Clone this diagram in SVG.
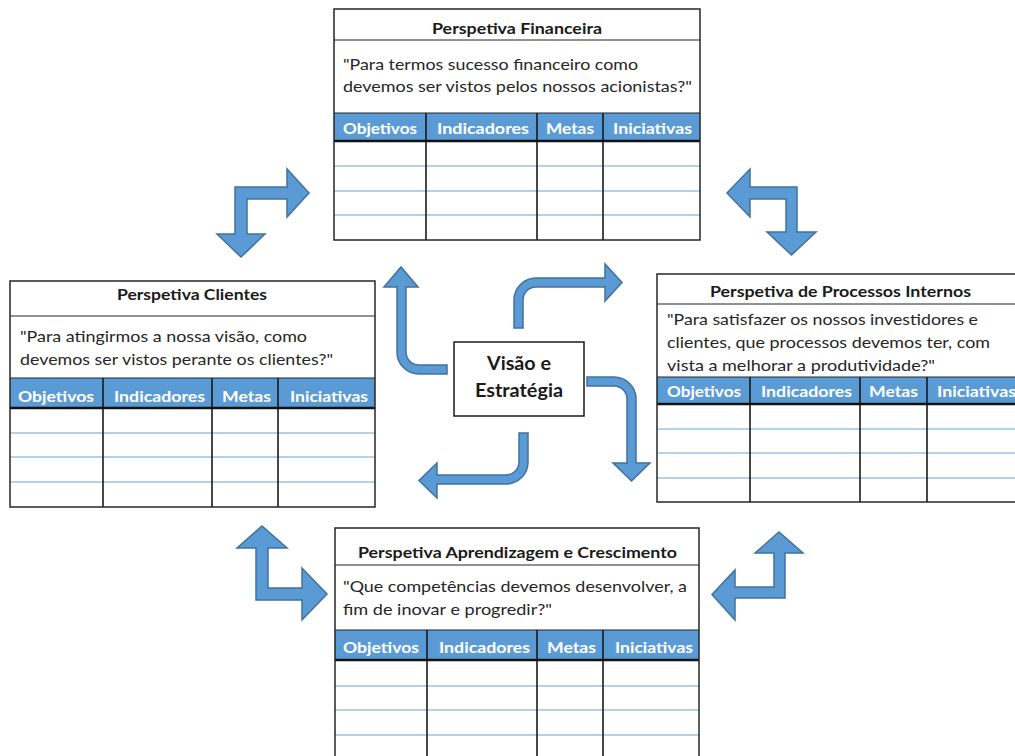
<svg xmlns="http://www.w3.org/2000/svg" width="1015" height="756" viewBox="0 0 1015 756">
  <style>
    .bg { fill: #ffffff; }
    .frame { fill: none; stroke: #262626; stroke-width: 1.5; }
    .sep { stroke: #262626; stroke-width: 1.2; }
    .col { stroke: #1a1a1a; stroke-width: 1.6; }
    .hdr { fill: #5B9BD5; }
    .hdrline { stroke: #111111; stroke-width: 2.4; }
    .row { stroke: #9DC3E6; stroke-width: 1.5; }
    .title { font-family: Lato, "Liberation Sans", sans-serif; font-weight: bold; font-size: 15px; fill: #1a1a1a; text-anchor: middle; }
    .q { font-family: Lato, "Liberation Sans", sans-serif; font-size: 16px; fill: #262626; }
    .th { font-family: Lato, "Liberation Sans", sans-serif; font-weight: bold; font-size: 16px; fill: #ffffff; text-anchor: middle; }
    .core { font-family: Lato, "Liberation Sans", sans-serif; font-weight: bold; font-size: 18px; fill: #1a1a1a; text-anchor: middle; }
    .arrow { fill: #5B9BD5; stroke: #41719C; stroke-width: 1.5; stroke-linejoin: miter; }
  </style>

  <rect x="0" y="0" width="1015" height="756" fill="#ffffff"/>

  <!-- Financial perspective -->
  <g id="perspetiva-financeira">
    <rect class="bg" x="334" y="9" width="366" height="231"/>
    <rect class="hdr" x="334" y="113" width="366" height="28"/>
    <line class="row" x1="334" y1="166" x2="700" y2="166"/>
    <line class="row" x1="334" y1="191" x2="700" y2="191"/>
    <line class="row" x1="334" y1="215" x2="700" y2="215"/>
    <line class="sep" x1="334" y1="40" x2="700" y2="40"/>
    <line class="sep" x1="334" y1="113" x2="700" y2="113"/>
    <line class="col" x1="426" y1="113" x2="426" y2="240"/>
    <line class="col" x1="537" y1="113" x2="537" y2="240"/>
    <line class="col" x1="603" y1="113" x2="603" y2="240"/>
    <line class="hdrline" x1="334" y1="141" x2="700" y2="141"/>
    <rect class="frame" x="334" y="9" width="366" height="231"/>
    <text class="title" x="517" y="34" textLength="170" lengthAdjust="spacingAndGlyphs">Perspetiva Financeira</text>
    <text class="q" x="343" y="70" textLength="295" lengthAdjust="spacingAndGlyphs">"Para termos sucesso financeiro como</text>
    <text class="q" x="343" y="92" textLength="349" lengthAdjust="spacingAndGlyphs">devemos ser vistos pelos nossos acionistas?"</text>
    <text class="th" x="380" y="134" textLength="74" lengthAdjust="spacingAndGlyphs">Objetivos</text>
    <text class="th" x="483" y="134" textLength="92" lengthAdjust="spacingAndGlyphs">Indicadores</text>
    <text class="th" x="570" y="134" textLength="48" lengthAdjust="spacingAndGlyphs">Metas</text>
    <text class="th" x="652.5" y="134" textLength="79" lengthAdjust="spacingAndGlyphs">Iniciativas</text>
  </g>

  <!-- Customer perspective -->
  <g id="perspetiva-clientes">
    <rect class="bg" x="10" y="281" width="365" height="226"/>
    <rect class="hdr" x="10" y="378" width="365" height="30"/>
    <line class="row" x1="10" y1="433" x2="375" y2="433"/>
    <line class="row" x1="10" y1="457" x2="375" y2="457"/>
    <line class="row" x1="10" y1="482" x2="375" y2="482"/>
    <line class="sep" x1="10" y1="316" x2="375" y2="316"/>
    <line class="sep" x1="10" y1="378" x2="375" y2="378"/>
    <line class="col" x1="103" y1="378" x2="103" y2="507"/>
    <line class="col" x1="212" y1="378" x2="212" y2="507"/>
    <line class="col" x1="278" y1="378" x2="278" y2="507"/>
    <line class="hdrline" x1="10" y1="408" x2="375" y2="408"/>
    <rect class="frame" x="10" y="281" width="365" height="226"/>
    <text class="title" x="192" y="300" textLength="150" lengthAdjust="spacingAndGlyphs">Perspetiva Clientes</text>
    <text class="q" x="20" y="342" textLength="287" lengthAdjust="spacingAndGlyphs">"Para atingirmos a nossa visão, como</text>
    <text class="q" x="20" y="365" textLength="313" lengthAdjust="spacingAndGlyphs">devemos ser vistos perante os clientes?"</text>
    <text class="th" x="56" y="402" textLength="76" lengthAdjust="spacingAndGlyphs">Objetivos</text>
    <text class="th" x="159.5" y="402" textLength="91" lengthAdjust="spacingAndGlyphs">Indicadores</text>
    <text class="th" x="246.5" y="402" textLength="49" lengthAdjust="spacingAndGlyphs">Metas</text>
    <text class="th" x="329" y="402" textLength="78" lengthAdjust="spacingAndGlyphs">Iniciativas</text>
  </g>

  <!-- Internal processes perspective -->
  <g id="perspetiva-processos-internos">
    <rect class="bg" x="657" y="274" width="366" height="228"/>
    <rect class="hdr" x="657" y="377" width="366" height="27"/>
    <line class="row" x1="657" y1="429" x2="1023" y2="429"/>
    <line class="row" x1="657" y1="453" x2="1023" y2="453"/>
    <line class="row" x1="657" y1="478" x2="1023" y2="478"/>
    <line class="sep" x1="657" y1="304" x2="1023" y2="304"/>
    <line class="sep" x1="657" y1="377" x2="1023" y2="377"/>
    <line class="col" x1="750" y1="377" x2="750" y2="502"/>
    <line class="col" x1="860" y1="377" x2="860" y2="502"/>
    <line class="col" x1="927" y1="377" x2="927" y2="502"/>
    <line class="hdrline" x1="657" y1="404" x2="1023" y2="404"/>
    <rect class="frame" x="657" y="274" width="366" height="228"/>
    <text class="title" x="840.5" y="297" textLength="261" lengthAdjust="spacingAndGlyphs">Perspetiva de Processos Internos</text>
    <text class="q" x="667" y="325" textLength="311" lengthAdjust="spacingAndGlyphs">"Para satisfazer os nossos investidores e</text>
    <text class="q" x="667" y="348" textLength="323" lengthAdjust="spacingAndGlyphs">clientes, que processos devemos ter, com</text>
    <text class="q" x="667" y="371" textLength="268" lengthAdjust="spacingAndGlyphs">vista a melhorar a produtividade?"</text>
    <text class="th" x="704" y="397" textLength="74" lengthAdjust="spacingAndGlyphs">Objetivos</text>
    <text class="th" x="806.5" y="397" textLength="91" lengthAdjust="spacingAndGlyphs">Indicadores</text>
    <text class="th" x="893.5" y="397" textLength="49" lengthAdjust="spacingAndGlyphs">Metas</text>
    <text class="th" x="976.5" y="397" textLength="79" lengthAdjust="spacingAndGlyphs">Iniciativas</text>
  </g>

  <!-- Learning and growth perspective -->
  <g id="perspetiva-aprendizagem">
    <rect class="bg" x="335" y="528" width="364" height="235"/>
    <rect class="hdr" x="335" y="630" width="364" height="30"/>
    <line class="row" x1="335" y1="686" x2="699" y2="686"/>
    <line class="row" x1="335" y1="710" x2="699" y2="710"/>
    <line class="row" x1="335" y1="735" x2="699" y2="735"/>
    <line class="sep" x1="335" y1="565" x2="699" y2="565"/>
    <line class="sep" x1="335" y1="630" x2="699" y2="630"/>
    <line class="col" x1="427" y1="630" x2="427" y2="763"/>
    <line class="col" x1="537" y1="630" x2="537" y2="763"/>
    <line class="col" x1="603" y1="630" x2="603" y2="763"/>
    <line class="hdrline" x1="335" y1="660" x2="699" y2="660"/>
    <rect class="frame" x="335" y="528" width="364" height="235"/>
    <text class="title" x="517.5" y="558" textLength="319" lengthAdjust="spacingAndGlyphs">Perspetiva Aprendizagem e Crescimento</text>
    <text class="q" x="343" y="592" textLength="344" lengthAdjust="spacingAndGlyphs">"Que competências devemos desenvolver, a</text>
    <text class="q" x="343" y="615" textLength="209" lengthAdjust="spacingAndGlyphs">fim de inovar e progredir?"</text>
    <text class="th" x="381" y="653" textLength="76" lengthAdjust="spacingAndGlyphs">Objetivos</text>
    <text class="th" x="484.5" y="653" textLength="91" lengthAdjust="spacingAndGlyphs">Indicadores</text>
    <text class="th" x="571.5" y="653" textLength="49" lengthAdjust="spacingAndGlyphs">Metas</text>
    <text class="th" x="654" y="653" textLength="78" lengthAdjust="spacingAndGlyphs">Iniciativas</text>
  </g>

  <!-- Vision and strategy core -->
  <g id="visao-estrategia">
    <rect x="454" y="342" width="130" height="74" fill="#ffffff" stroke="#1a1a1a" stroke-width="1.5"/>
    <text class="core" x="519" y="370" textLength="64" lengthAdjust="spacingAndGlyphs">Visão e</text>
    <text class="core" x="519" y="397" textLength="88" lengthAdjust="spacingAndGlyphs">Estratégia</text>
  </g>

  <!-- Connectors: curved arrows from the core, bent arrows between perspectives -->
  <g id="connectors">
    <path class="arrow" d="M447,365 L419,365 A13,13 0 0 1 406,352 L406,287 L418,287 L401,267 L384,287 L397,287 L397,352 A22,22 0 0 0 419,374 L447,374 Z"/>
    <path class="arrow" d="M514,328 L514,300 A22,22 0 0 1 536,278 L605,278 L605,264 L622,282.5 L605,301 L605,287 L536,287 A13,13 0 0 0 523,300 L523,328 Z"/>
    <path class="arrow" d="M587,377 L614,377 A22,22 0 0 1 636,399 L636,463 L650,463 L631.5,481 L613,463 L627,463 L627,399 A13,13 0 0 0 614,386 L587,386 Z"/>
    <path class="arrow" d="M519,433 L528,433 L528,462 A22,22 0 0 1 506,484 L437,484 L437,498 L419,480.5 L437,463 L437,475 L506,475 A13,13 0 0 0 519,462 Z"/>

    <path class="arrow" d="M235,187 L287,187 L287,169 L309,193 L287,217 L287,199 L247,199 L247,234 L265,234 L241,257 L217,234 L235,234 Z"/>
    <path class="arrow" d="M797,187 L797,232 L816,232 L791.5,255 L767,232 L786,232 L786,199 L750,199 L750,217 L727,193 L750,169 L750,187 Z"/>
    <path class="arrow" d="M256,548 L237,548 L262,526 L287,548 L268,548 L268,588 L302,588 L302,568 L327,594 L302,620 L302,600 L256,600 Z"/>
    <path class="arrow" d="M785,553 L803,553 L779,532 L755,553 L774,553 L774,587 L735,587 L735,570 L712,594.5 L735,620 L735,598 L785,598 Z"/>
  </g>
</svg>
